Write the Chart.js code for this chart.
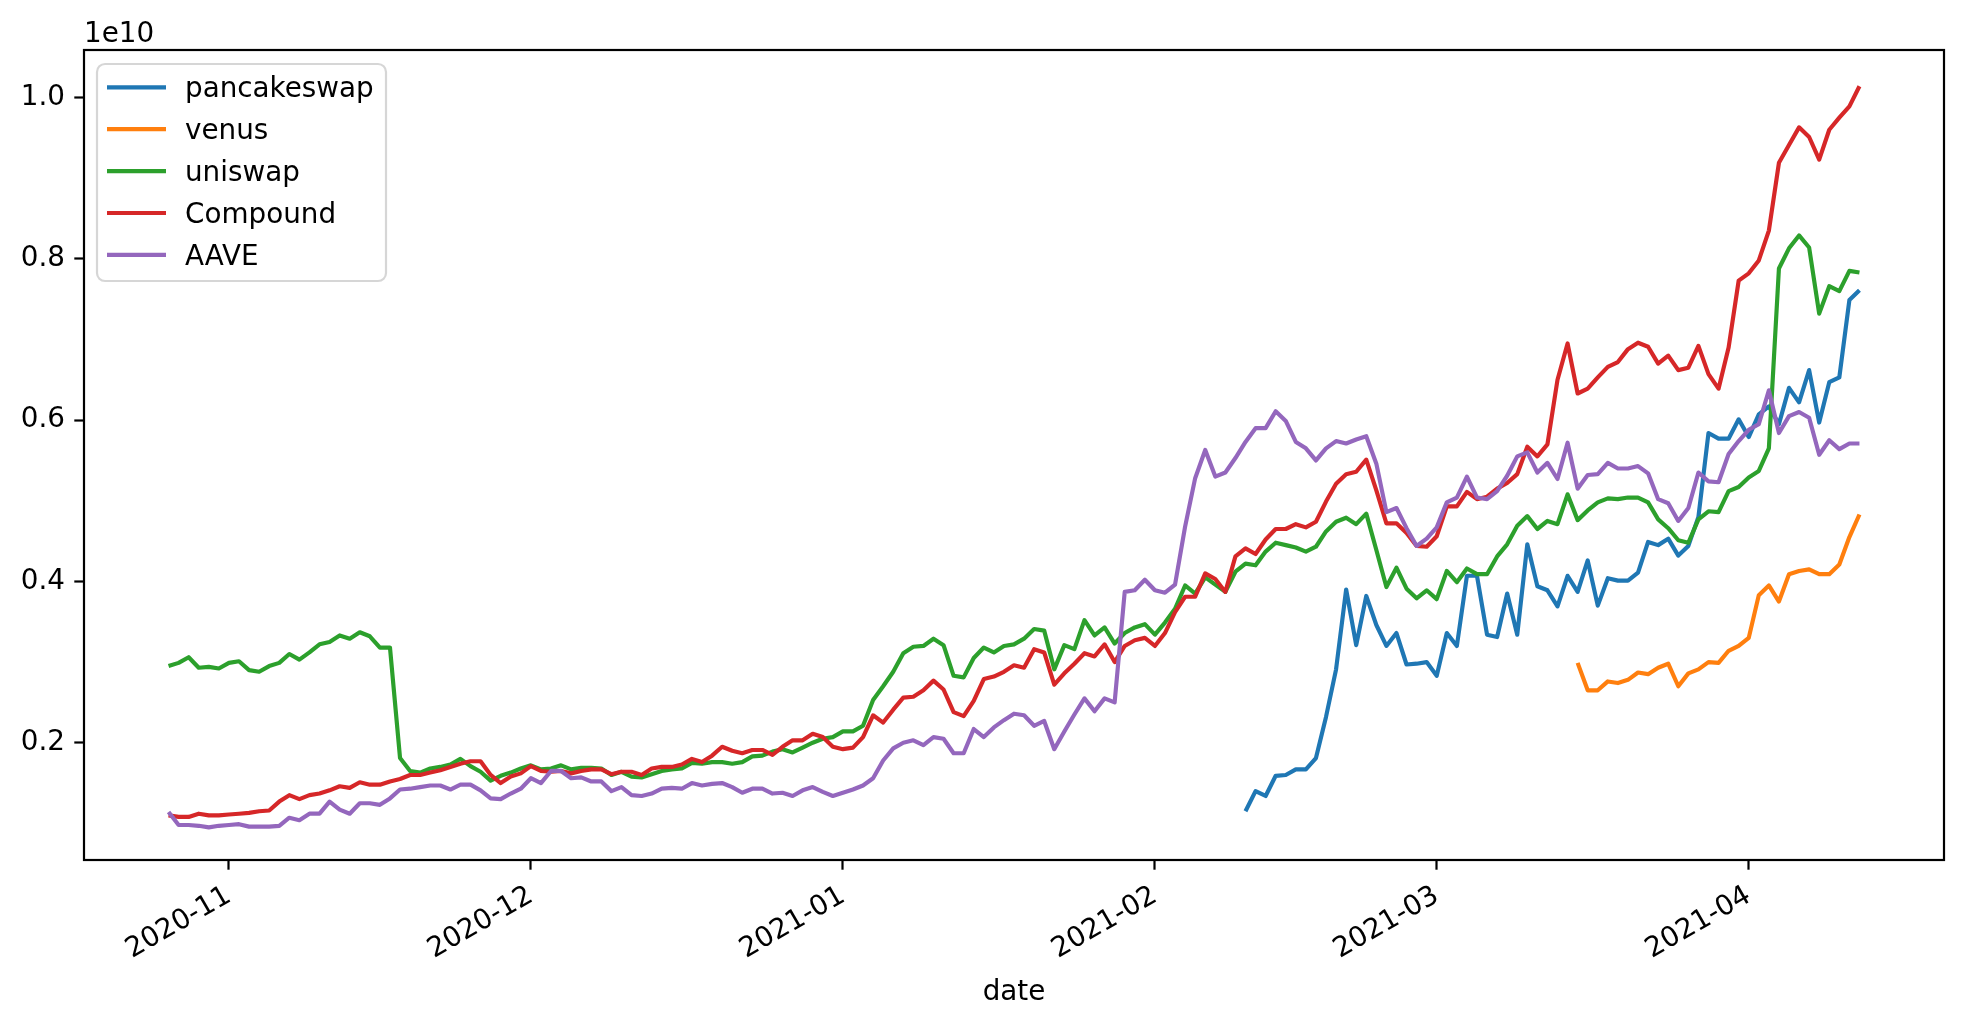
<!DOCTYPE html>
<html>
<head>
<meta charset="utf-8">
<script src="https://cdn.jsdelivr.net/npm/chart.js@4.4.1/dist/chart.umd.min.js"></script>
<style>
  html, body { margin: 0; padding: 0; background: #ffffff; }
  #wrap { width: 1963px; height: 1027px; }
  canvas { display: block; }
</style>
</head>
<body>
<div id="wrap"><canvas id="c" width="1963" height="1027"></canvas></div>
<script>
// ---- data (values in units of 1e10) ----
const FIRST_DATE = '2020-10-26';
const LAST_DATE = '2021-04-12';
const seriesNames = ['pancakeswap', 'venus', 'uniswap', 'Compound', 'AAVE'];
const seriesStart = ['2021-02-10', '2021-03-15', '2020-10-26', '2020-10-26', '2020-10-26'];
const seriesColors = ['#1f77b4', '#ff7f0e', '#2ca02c', '#d62728', '#9467bd'];
const monthTickDates = ['2020-11-01', '2020-12-01', '2021-01-01', '2021-02-01', '2021-03-01', '2021-04-01'];
const monthTickLabels = ['2020-11', '2020-12', '2021-01', '2021-02', '2021-03', '2021-04'];
const yTickValues = [0.2, 0.4, 0.6, 0.8, 1.0];
const offsetLabel = '1e10';
const xLabel = 'date';

const pancakeswap = [
  0.115,0.140,0.134,0.159,0.160,0.167,0.167,0.181,0.232,0.291,0.390,0.321,0.382,0.346,0.320,0.336,0.297,0.298,0.300,0.283,0.336,
  0.320,0.407,0.407,0.334,0.331,0.385,0.334,0.446,0.394,0.389,0.369,0.407,0.387,0.426,0.370,0.404,0.401,0.401,0.411,0.449,0.445,0.453,0.432,0.444,0.480,0.584,0.577,
  0.577,0.601,0.579,0.607,0.617,0.595,0.640,0.622,0.662,0.597,0.647,0.653,0.749,0.761
];
const venus = [
  0.299,0.265,0.265,0.276,0.274,0.278,0.287,0.285,0.293,0.298,0.270,0.286,0.291,0.300,0.299,
  0.314,0.320,0.330,0.383,0.395,0.375,0.409,0.413,0.415,0.409,0.409,0.421,0.455,0.483
];
const uniswap = [
  0.295,0.299,0.306,0.293,0.294,0.292,0.299,0.301,0.290,0.288,0.295,0.299,0.310,0.303,0.312,0.322,0.325,0.333,0.329,0.337,0.332,0.318,0.318,0.181,0.165,0.163,
  0.168,0.170,0.173,0.180,0.171,0.164,0.153,0.159,0.163,0.168,0.172,0.167,0.168,0.172,0.167,0.169,0.169,0.168,0.160,0.164,0.158,0.157,0.161,0.165,0.167,0.168,0.175,
  0.174,0.176,0.176,0.174,0.176,0.183,0.184,0.189,0.192,0.188,0.194,0.200,0.205,0.207,0.214,0.214,0.221,0.253,0.270,0.288,0.311,0.319,0.320,0.329,0.321,0.283,0.281,0.305,
  0.318,0.312,0.320,0.322,0.329,0.341,0.339,0.291,0.321,0.316,0.352,0.333,0.343,0.323,0.336,0.343,0.347,0.334,0.349,0.366,0.395,0.385,
  0.405,0.396,0.387,0.412,0.422,0.420,0.437,0.448,0.445,0.442,0.437,0.443,0.462,0.474,0.479,0.471,0.484,0.439,0.393,0.417,0.391,0.379,0.389,0.378,0.413,
  0.399,0.416,0.409,0.409,0.431,0.446,0.469,0.481,0.465,0.475,0.471,0.508,0.476,0.488,0.498,0.503,0.502,0.504,0.504,0.498,0.477,0.466,0.451,0.448,0.477,0.487,0.486,
  0.512,0.517,0.529,0.537,0.565,0.788,0.813,0.829,0.814,0.732,0.766,0.760,0.785,0.783
];
const compound = [
  0.110,0.108,0.108,0.112,0.110,0.110,0.111,0.112,0.113,0.115,0.116,0.127,0.135,0.130,0.135,0.137,0.141,0.146,0.144,0.151,0.148,0.148,0.152,0.155,0.160,0.160,
  0.163,0.166,0.170,0.174,0.177,0.177,0.160,0.150,0.158,0.162,0.171,0.165,0.164,0.165,0.162,0.165,0.167,0.167,0.161,0.164,0.164,0.160,0.168,0.170,0.170,0.173,0.180,
  0.176,0.184,0.195,0.190,0.187,0.191,0.191,0.185,0.195,0.203,0.203,0.211,0.207,0.195,0.192,0.194,0.207,0.234,0.225,0.241,0.256,0.257,0.265,0.277,0.266,0.238,0.233,0.252,
  0.279,0.282,0.288,0.296,0.293,0.316,0.312,0.272,0.286,0.298,0.311,0.307,0.322,0.300,0.320,0.327,0.330,0.320,0.336,0.362,0.381,0.381,
  0.410,0.403,0.387,0.431,0.441,0.434,0.452,0.465,0.465,0.471,0.467,0.474,0.499,0.521,0.533,0.536,0.551,0.513,0.472,0.472,0.460,0.444,0.443,0.456,0.493,
  0.493,0.511,0.502,0.505,0.515,0.522,0.533,0.567,0.555,0.570,0.650,0.695,0.633,0.639,0.653,0.666,0.672,0.688,0.696,0.691,0.670,0.680,0.662,0.665,0.692,0.657,0.639,
  0.690,0.773,0.782,0.798,0.835,0.919,0.941,0.963,0.951,0.923,0.960,0.975,0.989,1.014
];
const aave = [
  0.114,0.098,0.098,0.097,0.095,0.097,0.098,0.099,0.096,0.096,0.096,0.097,0.107,0.104,0.112,0.112,0.127,0.117,0.112,0.125,0.125,0.123,0.131,0.142,0.143,0.145,
  0.147,0.147,0.142,0.148,0.148,0.141,0.131,0.130,0.137,0.143,0.156,0.150,0.165,0.165,0.156,0.157,0.152,0.152,0.140,0.145,0.135,0.134,0.137,0.143,0.144,0.143,0.150,
  0.147,0.149,0.150,0.145,0.138,0.143,0.143,0.137,0.138,0.134,0.141,0.145,0.139,0.134,0.138,0.142,0.147,0.156,0.178,0.193,0.200,0.203,0.197,0.207,0.205,0.187,0.187,0.217,
  0.207,0.219,0.228,0.236,0.234,0.221,0.227,0.192,0.214,0.235,0.255,0.239,0.255,0.250,0.387,0.389,0.402,0.389,0.386,0.396,0.468,0.528,
  0.563,0.530,0.535,0.553,0.573,0.590,0.590,0.611,0.599,0.573,0.565,0.550,0.565,0.574,0.571,0.576,0.580,0.546,0.486,0.491,0.466,0.444,0.453,0.467,0.498,
  0.504,0.530,0.504,0.502,0.512,0.531,0.555,0.560,0.535,0.547,0.527,0.572,0.515,0.532,0.533,0.547,0.540,0.540,0.543,0.534,0.502,0.497,0.475,0.491,0.535,0.524,0.523,
  0.558,0.574,0.588,0.595,0.637,0.584,0.605,0.610,0.603,0.557,0.575,0.564,0.571,0.571
];
const seriesValues = [pancakeswap, venus, uniswap, compound, aave];

// ---- helpers ----
function dayIndex(s) {
  const [y, m, d] = s.split('-').map(Number);
  const [y0, m0, d0] = FIRST_DATE.split('-').map(Number);
  return Math.round((Date.UTC(y, m - 1, d) - Date.UTC(y0, m0 - 1, d0)) / 86400000);
}
const lastDay = dayIndex(LAST_DATE);
const xMargin = lastDay * 0.05;
const monthTickPos = monthTickDates.map(dayIndex);

const FONT = 'DejaVu Sans';
const FS = 27.8;
const LW = 4.17;
const SPINE = 2.2;

const datasets = seriesNames.map((name, i) => {
  const s0 = dayIndex(seriesStart[i]);
  return {
    label: name,
    data: seriesValues[i].map((v, k) => ({ x: s0 + k, y: v })),
    borderColor: seriesColors[i],
    backgroundColor: seriesColors[i],
    borderWidth: LW,
    pointRadius: 0,
    pointHoverRadius: 0,
    tension: 0,
    fill: false,
    borderJoinStyle: 'round',
    borderCapStyle: 'butt',
    order: seriesNames.length - i
  };
});

const decorPlugin = {
  id: 'decor',
  afterDraw(chart) {
    const ctx = chart.ctx;
    const a = chart.chartArea;
    ctx.save();
    // spines
    ctx.strokeStyle = '#000000';
    ctx.lineWidth = SPINE;
    ctx.strokeRect(a.left, a.top, a.right - a.left, a.bottom - a.top);

    // legend frame
    const bx = a.left + 13, by = a.top + 14, bw = 289, bh = 217, r = 8;
    ctx.beginPath();
    ctx.moveTo(bx + r, by);
    ctx.lineTo(bx + bw - r, by);
    ctx.arcTo(bx + bw, by, bx + bw, by + r, r);
    ctx.lineTo(bx + bw, by + bh - r);
    ctx.arcTo(bx + bw, by + bh, bx + bw - r, by + bh, r);
    ctx.lineTo(bx + r, by + bh);
    ctx.arcTo(bx, by + bh, bx, by + bh - r, r);
    ctx.lineTo(bx, by + r);
    ctx.arcTo(bx, by, bx + r, by, r);
    ctx.closePath();
    ctx.fillStyle = 'rgba(255,255,255,0.8)';
    ctx.fill();
    ctx.strokeStyle = 'rgba(204,204,204,0.8)';
    ctx.lineWidth = 2.2;
    ctx.stroke();

    // legend entries
    ctx.font = FS + 'px "' + FONT + '"';
    ctx.textAlign = 'left';
    ctx.textBaseline = 'alphabetic';
    chart.data.datasets.forEach((ds, i) => {
      const yy = by + 23.3 + i * 41.9;
      ctx.beginPath();
      ctx.moveTo(bx + 10, yy);
      ctx.lineTo(bx + 69, yy);
      ctx.strokeStyle = ds.borderColor;
      ctx.lineWidth = LW;
      ctx.lineCap = 'butt';
      ctx.stroke();
      ctx.fillStyle = '#000000';
      ctx.fillText(ds.label, bx + 88, yy + 10);
    });

    // offset text and x label
    ctx.fillStyle = '#000000';
    ctx.textAlign = 'left';
    ctx.fillText(offsetLabel, a.left, a.top - 8.5);
    ctx.textAlign = 'center';
    ctx.fillText(xLabel, (a.left + a.right) / 2, 1000);
    ctx.restore();
  }
};

const chart = new Chart(document.getElementById('c'), {
  type: 'line',
  data: { datasets },
  options: {
    responsive: false,
    devicePixelRatio: 1,
    animation: false,
    events: [],
    layout: { padding: { top: 50, right: 19, left: 0, bottom: 0 } },
    plugins: {
      legend: { display: false },
      tooltip: { enabled: false },
      title: { display: false }
    },
    scales: {
      x: {
        type: 'linear',
        min: -xMargin,
        max: lastDay + xMargin,
        afterFit(scale) { scale.height = 167; },
        afterBuildTicks(scale) { scale.ticks = monthTickPos.map(v => ({ value: v })); },
        border: { display: false },
        grid: { drawOnChartArea: false, drawTicks: true, tickLength: 9.7, tickWidth: SPINE, tickColor: '#000000' },
        ticks: {
          autoSkip: false,
          minRotation: 30,
          maxRotation: 30,
          padding: 9.7,
          color: '#000000',
          font: { family: FONT, size: FS },
          callback(value, index) { return monthTickLabels[index]; }
        }
      },
      y: {
        type: 'linear',
        min: 0.0546,
        max: 1.0589,
        afterFit(scale) { scale.width = 84; },
        afterBuildTicks(scale) { scale.ticks = yTickValues.map(v => ({ value: v })); },
        border: { display: false },
        grid: { drawOnChartArea: false, drawTicks: true, tickLength: 9.7, tickWidth: SPINE, tickColor: '#000000' },
        ticks: {
          padding: 9.3,
          color: '#000000',
          font: { family: FONT, size: FS },
          callback(value) { return Number(value).toFixed(1); }
        }
      }
    }
  },
  plugins: [decorPlugin]
});
</script>
</body>
</html>
